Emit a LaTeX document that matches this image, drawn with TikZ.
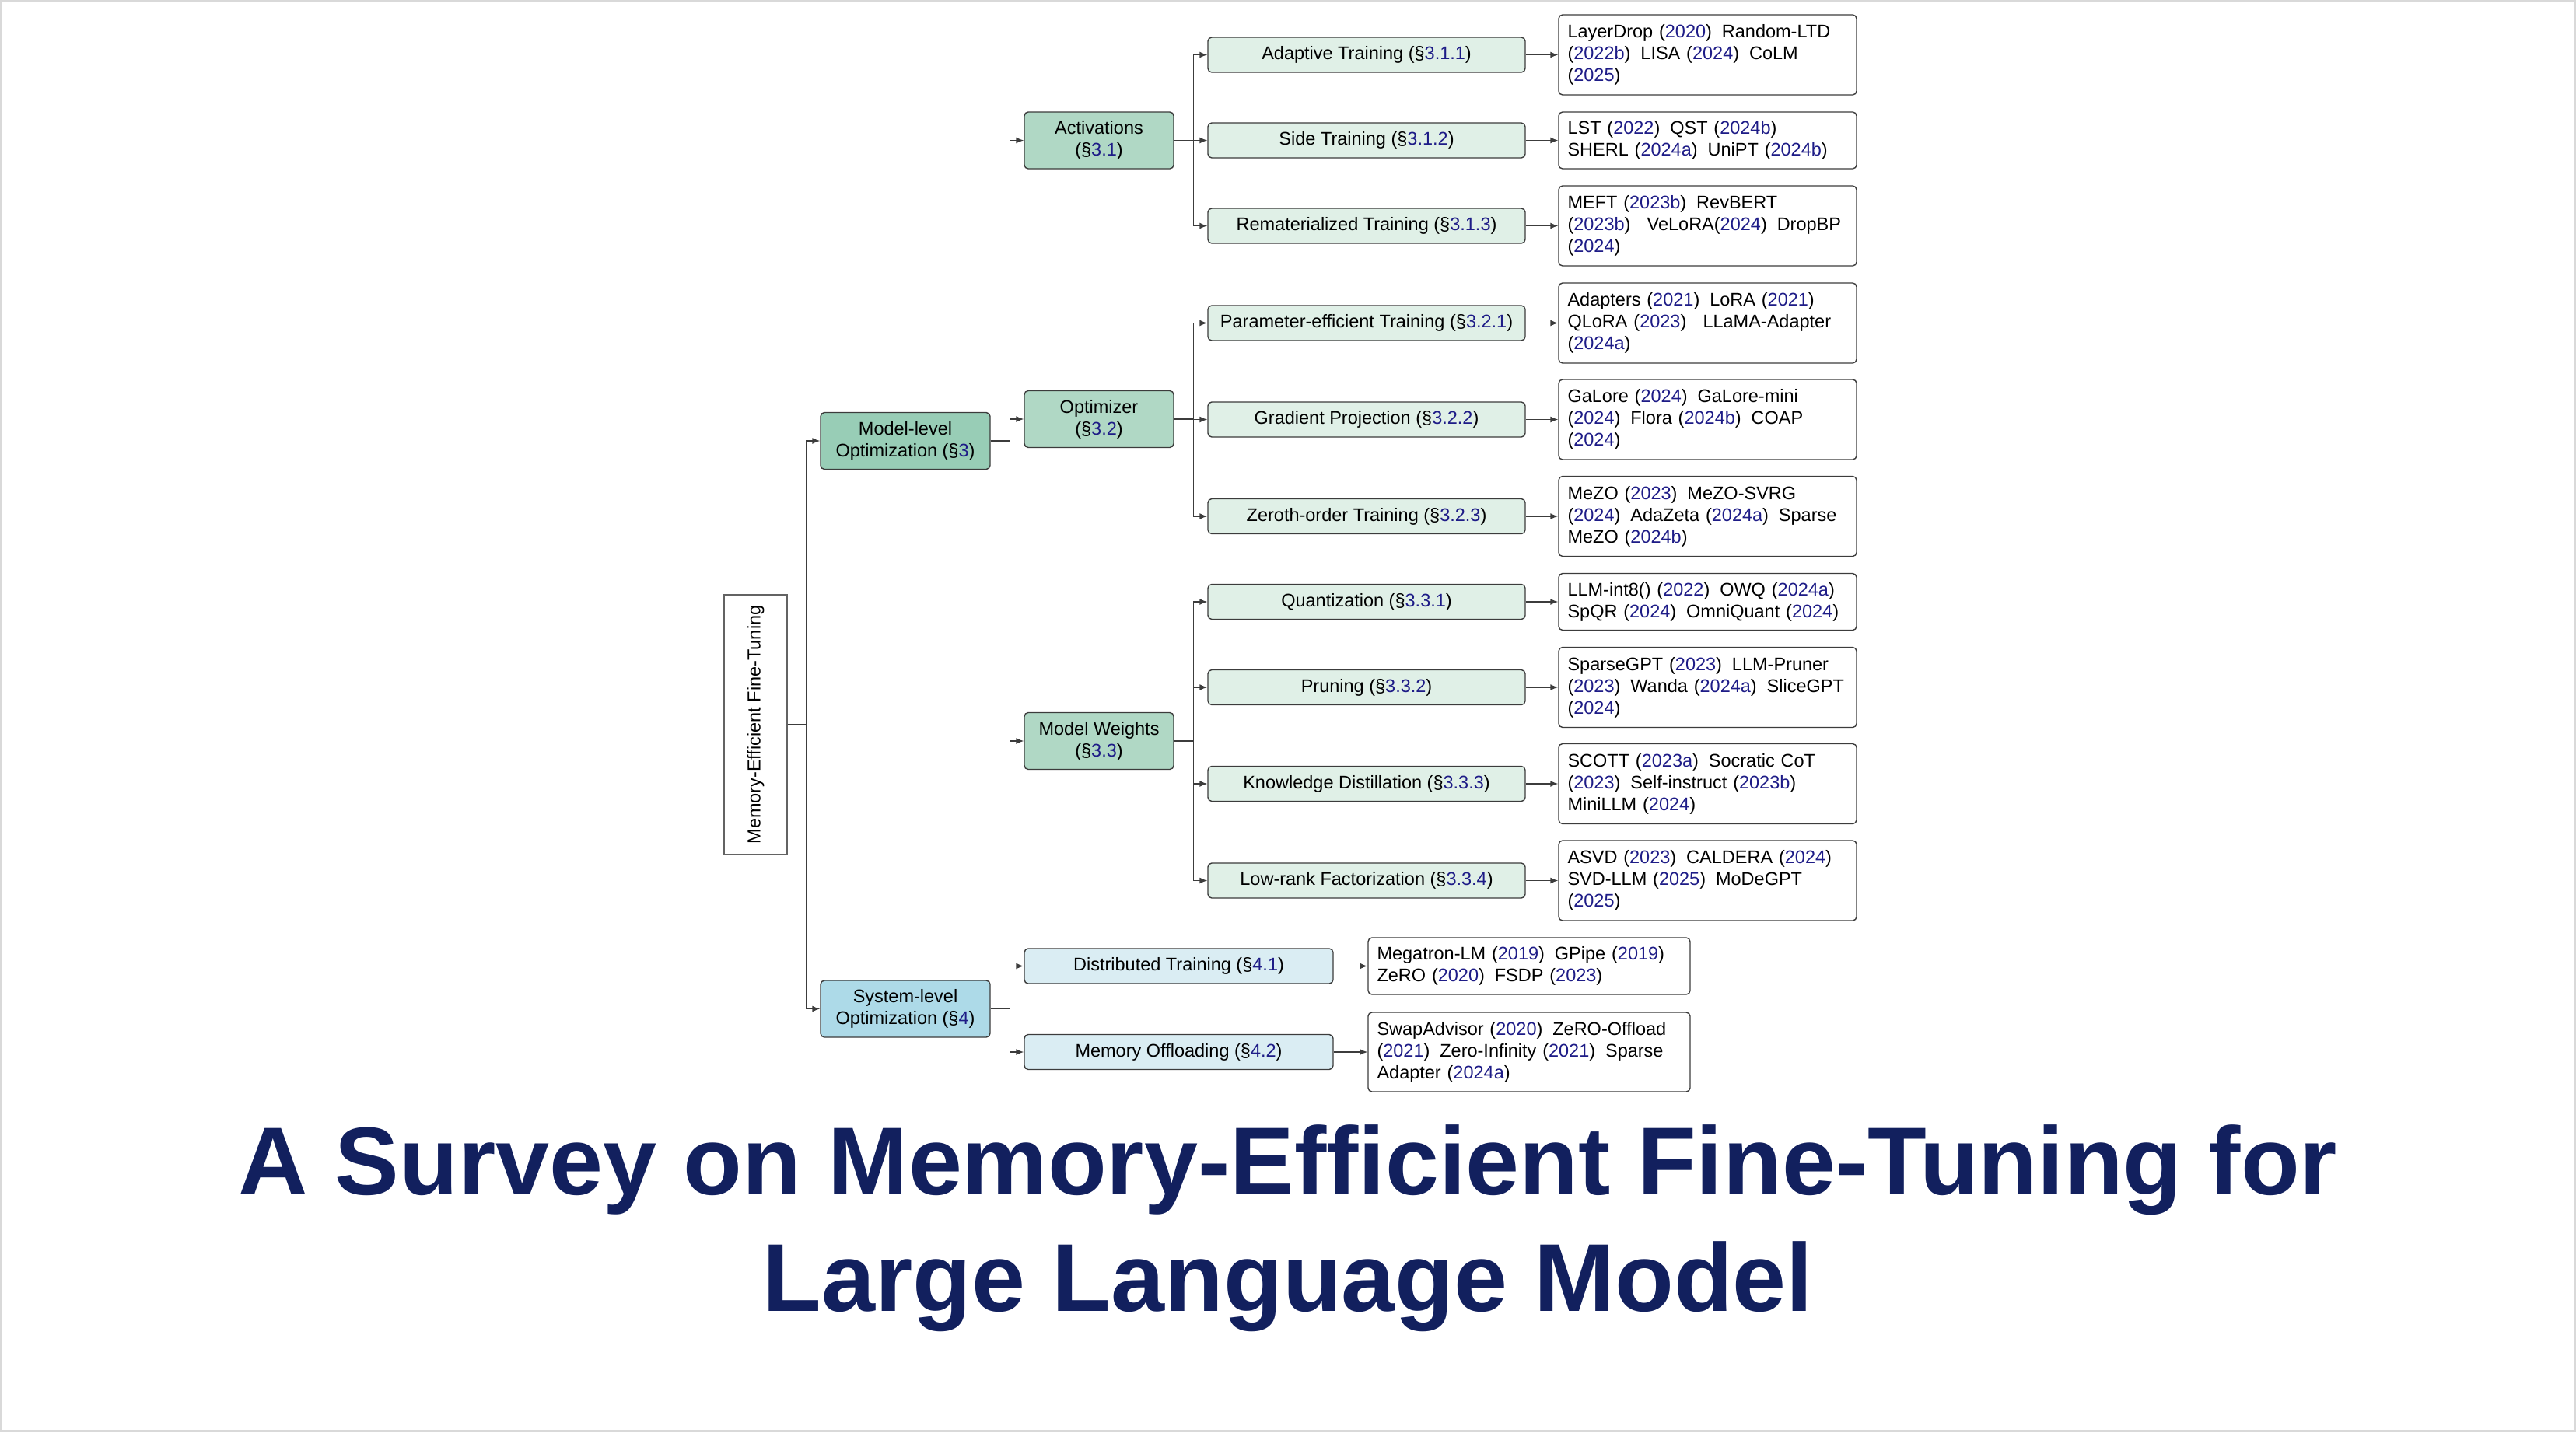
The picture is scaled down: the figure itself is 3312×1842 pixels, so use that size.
\documentclass[tikz,border=0pt]{standalone}
\usepackage{fontspec}
\usepackage{graphicx}
\setmainfont{Liberation Sans}
\usetikzlibrary{arrows.meta}
\definecolor{gone}{RGB}{152,205,182}
\definecolor{gtwo}{RGB}{176,216,197}
\definecolor{gthree}{RGB}{224,240,231}
\definecolor{bone}{RGB}{173,218,232}
\definecolor{bthree}{RGB}{218,237,243}
\definecolor{citeblue}{RGB}{30,28,135}
\definecolor{bordercol}{RGB}{60,60,60}
\definecolor{titlecol}{RGB}{18,32,94}
\newcommand\cy[1]{\textcolor{citeblue}{#1}}
\newcommand\sepx{\hspace{0.55em}}
\newcommand\wsep{\hspace{0.9em}}
\begin{document}
\begin{tikzpicture}[x=0.5pt,y=-0.5pt,
  box/.style={draw=bordercol, line width=0.7pt, rounded corners=2.5pt,
    font=\fontsize{11.75}{14}\selectfont, align=center, inner sep=0pt},
  lvlone/.style={box, minimum width=109pt, minimum height=36.5pt},
  lvltwo/.style={box, fill=gtwo, minimum width=96pt, minimum height=36.5pt},
  lvlthree/.style={box, minimum height=22.5pt},
  leaf/.style={box, fill=white, text width=180pt, align=left, inner xsep=5.75pt},
  leafthree/.style={leaf, minimum height=51.5pt},
  leaftwo/.style={leaf, minimum height=36.5pt},
  sleaf/.style={box, fill=white, text width=195.5pt, align=left, inner xsep=5.75pt},
  rootbox/.style={draw=bordercol!80, line width=0.7pt, fill=white, inner sep=0pt,
    font=\fontsize{11.75}{14}\selectfont, minimum width=40.5pt, minimum height=167pt},
  arr/.style={draw=bordercol, line width=0.7pt, -{Latex[length=5pt,width=4pt]}},
  titlestyle/.style={text=titlecol, font=\fontsize{62}{75}\selectfont\bfseries, inner sep=0pt}
]
\useasboundingbox (0,0) rectangle (3312,1842);
\draw[draw=black!15, line width=1.5pt] (1.5,1.5) rectangle (3310.5,1840.5);

% root
\node[rootbox] (root) at (971.5,932) {\rotatebox{90}{Memory-Efficient Fine-Tuning}};

% level 1
\node[lvlone, fill=gone] (ml) at (1164,567) {Model-level\\Optimization (§\cy{3})};
\node[lvlone, fill=bone] (sl) at (1164,1297.5) {System-level\\Optimization (§\cy{4})};

% level 2
\node[lvltwo] (act) at (1413,180.5) {Activations\\(§\cy{3.1})};
\node[lvltwo] (opt) at (1413,539) {Optimizer\\(§\cy{3.2})};
\node[lvltwo] (mw) at (1413,953) {Model Weights\\(§\cy{3.3})};

% level 3 (green)
\node[lvlthree, fill=gthree, minimum width=204pt] (a1) at (1757,70.5) {Adaptive Training (§\cy{3.1.1})};
\node[lvlthree, fill=gthree, minimum width=204pt] (a2) at (1757,180.5) {Side Training (§\cy{3.1.2})};
\node[lvlthree, fill=gthree, minimum width=204pt] (a3) at (1757,290.5) {Rematerialized Training (§\cy{3.1.3})};
\node[lvlthree, fill=gthree, minimum width=204pt] (o1) at (1757,415.5) {Parameter-efficient Training (§\cy{3.2.1})};
\node[lvlthree, fill=gthree, minimum width=204pt] (o2) at (1757,539.5) {Gradient Projection (§\cy{3.2.2})};
\node[lvlthree, fill=gthree, minimum width=204pt] (o3) at (1757,664) {Zeroth-order Training (§\cy{3.2.3})};
\node[lvlthree, fill=gthree, minimum width=204pt] (w1) at (1757,774) {Quantization (§\cy{3.3.1})};
\node[lvlthree, fill=gthree, minimum width=204pt] (w2) at (1757,884) {Pruning (§\cy{3.3.2})};
\node[lvlthree, fill=gthree, minimum width=204pt] (w3) at (1757,1008) {Knowledge Distillation (§\cy{3.3.3})};
\node[lvlthree, fill=gthree, minimum width=204pt] (w4) at (1757,1132.5) {Low-rank Factorization (§\cy{3.3.4})};

% level 3 (blue)
\node[lvlthree, fill=bthree, minimum width=198.5pt] (s1) at (1515.5,1242.5) {Distributed Training (§\cy{4.1})};
\node[lvlthree, fill=bthree, minimum width=198.5pt] (s2) at (1515.5,1353) {Memory Offloading (§\cy{4.2})};

% leaves
\node[leafthree] (la1) at (2195.5,70.5) {LayerDrop (\cy{2020})\sepx Random-LTD\\(\cy{2022b})\sepx LISA (\cy{2024})\sepx CoLM\\(\cy{2025})};
\node[leaftwo] (la2) at (2195.5,180.5) {LST (\cy{2022})\sepx QST (\cy{2024b})\\SHERL (\cy{2024a})\sepx UniPT (\cy{2024b})};
\node[leafthree] (la3) at (2195.5,290.5) {MEFT (\cy{2023b})\sepx RevBERT\\(\cy{2023b})\wsep VeLoRA(\cy{2024})\sepx DropBP\\(\cy{2024})};
\node[leafthree] (lo1) at (2195.5,415.5) {Adapters (\cy{2021})\sepx LoRA (\cy{2021})\\QLoRA (\cy{2023})\wsep LLaMA-Adapter\\(\cy{2024a})};
\node[leafthree] (lo2) at (2195.5,539.5) {GaLore (\cy{2024})\sepx GaLore-mini\\(\cy{2024})\sepx Flora (\cy{2024b})\sepx COAP\\(\cy{2024})};
\node[leafthree] (lo3) at (2195.5,664) {MeZO (\cy{2023})\sepx MeZO-SVRG\\(\cy{2024})\sepx AdaZeta (\cy{2024a})\sepx Sparse\\MeZO (\cy{2024b})};
\node[leaftwo] (lw1) at (2195.5,774) {LLM-int8() (\cy{2022})\sepx OWQ (\cy{2024a})\\SpQR (\cy{2024})\sepx OmniQuant (\cy{2024})};
\node[leafthree] (lw2) at (2195.5,884) {SparseGPT (\cy{2023})\sepx LLM-Pruner\\(\cy{2023})\sepx Wanda (\cy{2024a})\sepx SliceGPT\\(\cy{2024})};
\node[leafthree] (lw3) at (2195.5,1008) {SCOTT (\cy{2023a})\sepx Socratic CoT\\(\cy{2023})\sepx Self-instruct (\cy{2023b})\\MiniLLM (\cy{2024})};
\node[leafthree] (lw4) at (2195.5,1132.5) {ASVD (\cy{2023})\sepx CALDERA (\cy{2024})\\SVD-LLM (\cy{2025})\sepx MoDeGPT\\(\cy{2025})};
\node[sleaf, minimum height=36.5pt] (ls1) at (1966,1242.5) {Megatron-LM (\cy{2019})\sepx GPipe (\cy{2019})\\ZeRO (\cy{2020})\sepx FSDP (\cy{2023})};
\node[sleaf, minimum height=51pt] (ls2) at (1966,1353) {SwapAdvisor (\cy{2020})\sepx ZeRO-Offload\\(\cy{2021})\sepx Zero-Infinity (\cy{2021})\sepx Sparse\\Adapter (\cy{2024a})};

% connectors
\draw[arr] (root.east) -- +(24,0) |- (ml.west);
\draw[arr] (root.east) -- +(24,0) |- (sl.west);
\draw[arr] (ml.east) -- +(25,0) |- (act.west);
\draw[arr] (ml.east) -- +(25,0) |- (opt.west);
\draw[arr] (ml.east) -- +(25,0) |- (mw.west);
\draw[arr] (sl.east) -- +(25,0) |- (s1.west);
\draw[arr] (sl.east) -- +(25,0) |- (s2.west);
\draw[arr] (act.east) -- +(25,0) |- (a1.west);
\draw[arr] (act.east) -- +(25,0) |- (a2.west);
\draw[arr] (act.east) -- +(25,0) |- (a3.west);
\draw[arr] (opt.east) -- +(25,0) |- (o1.west);
\draw[arr] (opt.east) -- +(25,0) |- (o2.west);
\draw[arr] (opt.east) -- +(25,0) |- (o3.west);
\draw[arr] (mw.east) -- +(25,0) |- (w1.west);
\draw[arr] (mw.east) -- +(25,0) |- (w2.west);
\draw[arr] (mw.east) -- +(25,0) |- (w3.west);
\draw[arr] (mw.east) -- +(25,0) |- (w4.west);
\draw[arr] (a1.east) -- (la1.west);
\draw[arr] (a2.east) -- (la2.west);
\draw[arr] (a3.east) -- (la3.west);
\draw[arr] (o1.east) -- (lo1.west);
\draw[arr] (o2.east) -- (lo2.west);
\draw[arr] (o3.east) -- (lo3.west);
\draw[arr] (w1.east) -- (lw1.west);
\draw[arr] (w2.east) -- (lw2.west);
\draw[arr] (w3.east) -- (lw3.west);
\draw[arr] (w4.east) -- (lw4.west);
\draw[arr] (s1.east) -- (ls1.west);
\draw[arr] (s2.east) -- (ls2.west);

% title
\node[titlestyle, anchor=base] (title1) at (1656,1536) {A Survey on Memory-Efficient Fine-Tuning for};
\node[titlestyle, anchor=base] (title2) at (1656,1686) {Large Language Model};
\end{tikzpicture}
\end{document}
